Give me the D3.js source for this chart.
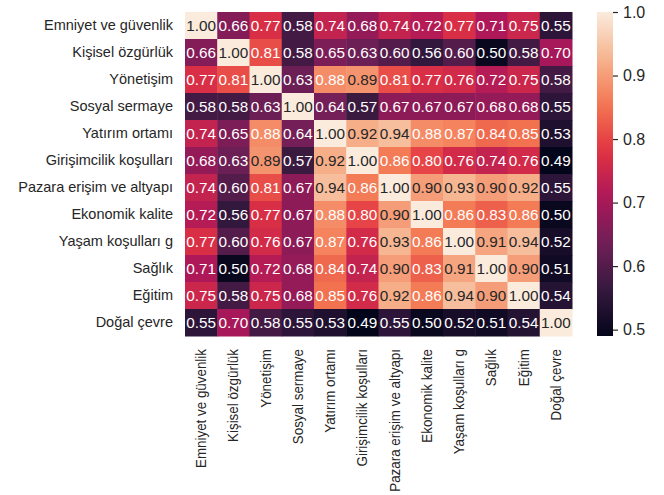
<!DOCTYPE html>
<html>
<head>
<meta charset="utf-8">
<script src="https://cdn.jsdelivr.net/npm/d3@7"></script>
<style>
  body { margin: 0; background: #fff; }
  text { font-family: "Liberation Sans", Arial, sans-serif; }
</style>
</head>
<body>
<div id="heatmap"></div>
<script>
// labels, same order for rows and columns
const labels = [
  "Emniyet ve güvenlik", "Kişisel özgürlük", "Yönetişim", "Sosyal sermaye",
  "Yatırım ortamı", "Girişimcilik koşulları", "Pazara erişim ve altyapı",
  "Ekonomik kalite", "Yaşam koşulları g", "Sağlık", "Eğitim", "Doğal çevre"
];

// correlation matrix, row by row
const corr = [
  [1.00, 0.66, 0.77, 0.58, 0.74, 0.68, 0.74, 0.72, 0.77, 0.71, 0.75, 0.55],
  [0.66, 1.00, 0.81, 0.58, 0.65, 0.63, 0.60, 0.56, 0.60, 0.50, 0.58, 0.70],
  [0.77, 0.81, 1.00, 0.63, 0.88, 0.89, 0.81, 0.77, 0.76, 0.72, 0.75, 0.58],
  [0.58, 0.58, 0.63, 1.00, 0.64, 0.57, 0.67, 0.67, 0.67, 0.68, 0.68, 0.55],
  [0.74, 0.65, 0.88, 0.64, 1.00, 0.92, 0.94, 0.88, 0.87, 0.84, 0.85, 0.53],
  [0.68, 0.63, 0.89, 0.57, 0.92, 1.00, 0.86, 0.80, 0.76, 0.74, 0.76, 0.49],
  [0.74, 0.60, 0.81, 0.67, 0.94, 0.86, 1.00, 0.90, 0.93, 0.90, 0.92, 0.55],
  [0.72, 0.56, 0.77, 0.67, 0.88, 0.80, 0.90, 1.00, 0.86, 0.83, 0.86, 0.50],
  [0.77, 0.60, 0.76, 0.67, 0.87, 0.76, 0.93, 0.86, 1.00, 0.91, 0.94, 0.52],
  [0.71, 0.50, 0.72, 0.68, 0.84, 0.74, 0.90, 0.83, 0.91, 1.00, 0.90, 0.51],
  [0.75, 0.58, 0.75, 0.68, 0.85, 0.76, 0.92, 0.86, 0.94, 0.90, 1.00, 0.54],
  [0.55, 0.70, 0.58, 0.55, 0.53, 0.49, 0.55, 0.50, 0.52, 0.51, 0.54, 1.00]
];

const colorbarTicks = [0.5, 0.6, 0.7, 0.8, 0.9, 1.0];

// rocket colormap stops
const rocketStops = ["#03051a", "#35193e", "#701f57", "#ad1759", "#e13342", "#f37651", "#f6b48f", "#faebdd"];
const rocket = d3.scaleLinear()
  .domain(rocketStops.map((d, i) => i / (rocketStops.length - 1)))
  .range(rocketStops)
  .interpolate(d3.interpolateRgb);

const vmin = d3.min(corr.flat()), vmax = d3.max(corr.flat());
const color = v => rocket((v - vmin) / (vmax - vmin));

const W = 664, H = 495;
const margin = { top: 12, left: 185 };
const width = 387, height = 324;

const svg = d3.select("#heatmap").append("svg")
  .attr("width", W).attr("height", H);

const x = d3.scaleBand().domain(labels).range([margin.left, margin.left + width]);
const y = d3.scaleBand().domain(labels).range([margin.top, margin.top + height]);

const cells = [];
corr.forEach((row, i) => row.forEach((v, j) => cells.push({ r: labels[i], c: labels[j], v })));

function luminance(c) {
  const rgb = d3.rgb(c);
  const f = u => { u /= 255; return u <= 0.03928 ? u / 12.92 : Math.pow((u + 0.055) / 1.055, 2.4); };
  return 0.2126 * f(rgb.r) + 0.7152 * f(rgb.g) + 0.0722 * f(rgb.b);
}

svg.append("g").selectAll("rect").data(cells).join("rect")
  .attr("x", d => x(d.c))
  .attr("y", d => y(d.r))
  .attr("width", x.bandwidth() + 0.5)
  .attr("height", y.bandwidth() + 0.5)
  .attr("fill", d => color(d.v));

svg.append("g").selectAll("text").data(cells).join("text")
  .attr("x", d => x(d.c) + x.bandwidth() / 2)
  .attr("y", d => y(d.r) + y.bandwidth() / 2)
  .attr("dy", "0.36em")
  .attr("text-anchor", "middle")
  .style("font-size", "15.3px")
  .attr("fill", d => luminance(color(d.v)) > 0.408 ? "#262626" : "#fff")
  .text(d => d.v.toFixed(2));

// y axis labels
const yAxis = svg.append("g")
  .attr("transform", `translate(${margin.left},0)`)
  .call(d3.axisLeft(y).tickSize(0).tickPadding(12));
yAxis.select(".domain").remove();
yAxis.selectAll("text").style("font-size", "14.5px").attr("fill", "#262626");

// x axis labels, rotated
const xAxis = svg.append("g")
  .attr("transform", `translate(0,${margin.top + height})`)
  .call(d3.axisBottom(x).tickSize(0).tickPadding(0));
xAxis.select(".domain").remove();
xAxis.selectAll("text")
  .style("font-size", "13.4px").attr("fill", "#262626")
  .attr("text-anchor", "end")
  .attr("dy", "0.35em")
  .attr("transform", "translate(0,13) scale(1.05,1) rotate(-90)")
  .attr("x", 0).attr("y", 0);

// colorbar
const cbX = 597, cbW = 16;
const cbScale = d3.scaleLinear().domain([vmin, vmax]).range([margin.top + height, margin.top]);
const defs = svg.append("defs");
const grad = defs.append("linearGradient").attr("id", "cbgrad")
  .attr("x1", 0).attr("y1", 1).attr("x2", 0).attr("y2", 0);
d3.range(0, 1.0001, 0.05).forEach(t => {
  grad.append("stop").attr("offset", t).attr("stop-color", rocket(t));
});
svg.append("rect")
  .attr("x", cbX).attr("y", margin.top)
  .attr("width", cbW).attr("height", height)
  .attr("fill", "url(#cbgrad)");

const cbAxis = svg.append("g")
  .attr("transform", `translate(${cbX + cbW},0)`)
  .call(d3.axisRight(cbScale).tickValues(colorbarTicks).tickFormat(d3.format(".1f")).tickSize(5).tickPadding(5));
cbAxis.select(".domain").remove();
cbAxis.selectAll("line").attr("stroke", "#262626").attr("stroke-width", 1.2);
cbAxis.selectAll("text").style("font-size", "16px").attr("fill", "#262626");
</script>
</body>
</html>
